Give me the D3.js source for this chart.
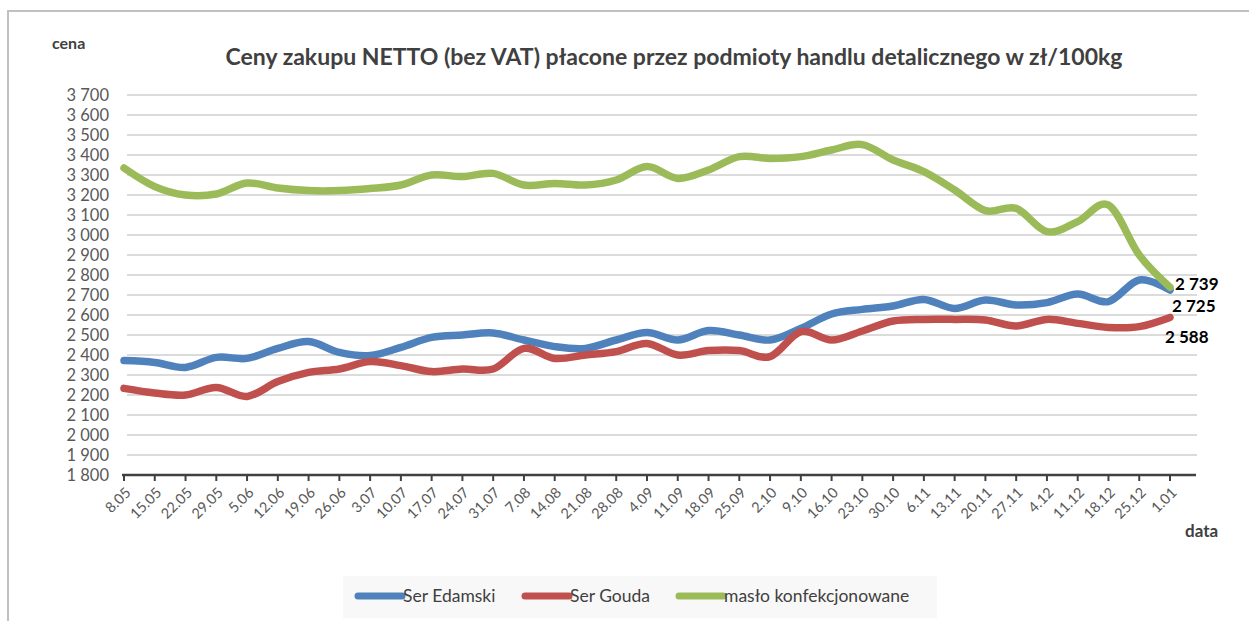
<!DOCTYPE html>
<head>
<meta charset="utf-8">
<title>Ceny zakupu NETTO</title>
<style>
body { margin: 0; background: #fff; }
text { font-family: Lato, "Noto Sans", sans-serif; }
</style>
</head>
<body>
<svg id="chart" width="1249" height="621"></svg>
<script src="https://cdn.jsdelivr.net/npm/d3@7"></script>
<script>
//-----------------------------DATA-----------------------------//
var dates = ["8.05","15.05","22.05","29.05","5.06","12.06","19.06","26.06","3.07","10.07",
    "17.07","24.07","31.07","7.08","14.08","21.08","28.08","4.09","11.09","18.09",
    "25.09","2.10","9.10","16.10","23.10","30.10","6.11","13.11","20.11","27.11",
    "4.12","11.12","18.12","25.12","1.01"];

var edamski = [2372,2363,2338,2388,2383,2433,2467,2413,2397,2438,
    2488,2500,2510,2475,2442,2433,2475,2512,2475,2522,
    2500,2475,2533,2605,2628,2645,2678,2633,2675,2650,
    2662,2705,2667,2775,2725];

var gouda = [2233,2210,2200,2238,2193,2267,2313,2330,2367,2347,
    2317,2330,2330,2433,2383,2400,2417,2458,2400,2422,
    2422,2392,2517,2475,2520,2570,2578,2578,2575,2545,
    2578,2558,2538,2542,2588];

var maslo = [3335,3242,3200,3205,3260,3235,3222,3222,3232,3250,
    3300,3292,3308,3250,3258,3250,3275,3342,3283,3325,
    3392,3383,3392,3425,3452,3375,3317,3225,3122,3133,
    3017,3067,3150,2900,2739];

var seriesNames = ["Ser Edamski", "Ser Gouda", "masło konfekcjonowane"];
var seriesColors = ["#4f81bd", "#c0504d", "#9bbb59"];
var yTicks = [1800,1900,2000,2100,2200,2300,2400,2500,2600,2700,2800,2900,3000,3100,3200,3300,3400,3500,3600,3700];

var series = [edamski, gouda, maslo].map(function (v, i) {
    return {name: seriesNames[i], color: seriesColors[i], values: v};
});

//-----------------------------SVG------------------------------//
var svg = d3.select("svg");
var fmt = function (d) { return d3.format(",")(d).replace(",", " "); };

// frame
svg.append("path")
    .attr("d", "M8,621V11H1249")
    .attr("fill", "none")
    .attr("stroke", "#c0c0c0")
    .attr("stroke-width", 2);

var x = d3.scalePoint().domain(dates).range([124, 1170]);
var y = d3.scaleLinear().domain([1800, 3700]).range([475, 95]);

// gridlines
svg.append("g")
    .selectAll("line")
    .data(yTicks.slice(1))
    .enter().append("line")
    .attr("x1", 127).attr("x2", 1197)
    .attr("y1", function (d) { return y(d); })
    .attr("y2", function (d) { return y(d); })
    .attr("stroke", "#cfcfcf")
    .attr("stroke-width", 1.6);

// y labels
svg.append("g")
    .selectAll("text")
    .data(yTicks)
    .enter().append("text")
    .attr("x", 109)
    .attr("y", function (d) { return y(d); })
    .attr("dy", "0.36em")
    .attr("text-anchor", "end")
    .attr("fill", "#595959")
    .style("font-size", "16.5px")
    .text(fmt);

// x axis
var xAxis = svg.append("g")
    .attr("transform", "translate(0," + y(1800) + ")");
xAxis.append("line")
    .attr("x1", 122).attr("x2", 1196)
    .attr("stroke", "#404040")
    .attr("stroke-width", 2.5);
xAxis.selectAll(".tick")
    .data(dates)
    .enter().append("line")
    .attr("class", "tick")
    .attr("x1", function (d) { return x(d); })
    .attr("x2", function (d) { return x(d); })
    .attr("y1", 0).attr("y2", 6)
    .attr("stroke", "#404040")
    .attr("stroke-width", 2);
xAxis.selectAll(".lab")
    .data(dates)
    .enter().append("text")
    .attr("class", "lab")
    .attr("transform", function (d) { return "translate(" + (x(d) + 4) + ",15) rotate(-45)"; })
    .attr("text-anchor", "end")
    .attr("dy", "0.35em")
    .attr("fill", "#595959")
    .style("font-size", "14.5px")
    .text(function (d) { return d; });

// titles
svg.append("text")
    .attr("x", 674).attr("y", 65)
    .attr("text-anchor", "middle")
    .attr("fill", "#404040")
    .style("font-size", "23px")
    .style("font-weight", "bold")
    .text("Ceny zakupu NETTO (bez VAT) płacone przez podmioty handlu detalicznego w zł/100kg");
svg.append("text")
    .attr("x", 52).attr("y", 49)
    .attr("fill", "#404040")
    .style("font-size", "16px")
    .style("font-weight", "bold")
    .text("cena");
svg.append("text")
    .attr("x", 1185).attr("y", 537)
    .attr("fill", "#404040")
    .style("font-size", "17px")
    .style("font-weight", "bold")
    .text("data");

//----------------------------LINES-----------------------------//
var line = d3.line()
    .curve(d3.curveCardinal.tension(0))
    .x(function (d, i) { return x(dates[i]); })
    .y(function (d) { return y(d); });

svg.append("g")
    .selectAll("path")
    .data(series)
    .enter().append("path")
    .attr("d", function (d) { return line(d.values); })
    .attr("fill", "none")
    .attr("stroke", function (d) { return d.color; })
    .attr("stroke-width", 7.5)
    .attr("stroke-linejoin", "round")
    .attr("stroke-linecap", "round");

// end labels
var labelOffsets = [[2, 16], [-5, 20], [5, -3]];
svg.append("g")
    .selectAll("text")
    .data(series)
    .enter().append("text")
    .attr("x", function (d, i) { return x(dates[dates.length - 1]) + labelOffsets[i][0]; })
    .attr("y", function (d, i) { return y(d.values[d.values.length - 1]) + labelOffsets[i][1]; })
    .attr("dy", "0.35em")
    .attr("fill", "#000")
    .style("font-size", "17px")
    .style("font-weight", "bold")
    .text(function (d) { return fmt(d.values[d.values.length - 1]); });

//---------------------------LEGEND-----------------------------//
svg.append("rect")
    .attr("x", 343).attr("y", 576)
    .attr("width", 594).attr("height", 42)
    .attr("fill", "#f8f8f8");
var legendX = [358, 525, 679];
var leg = svg.append("g")
    .selectAll("g")
    .data(series)
    .enter().append("g")
    .attr("transform", function (d, i) { return "translate(" + legendX[i] + ",596)"; });
leg.append("line")
    .attr("x1", 0).attr("x2", 44)
    .attr("stroke", function (d) { return d.color; })
    .attr("stroke-width", 7)
    .attr("stroke-linecap", "round");
leg.append("text")
    .attr("x", 45)
    .attr("dy", "0.35em")
    .attr("fill", "#404040")
    .style("font-size", "17.5px")
    .text(function (d) { return d.name; });
</script>
</body>
